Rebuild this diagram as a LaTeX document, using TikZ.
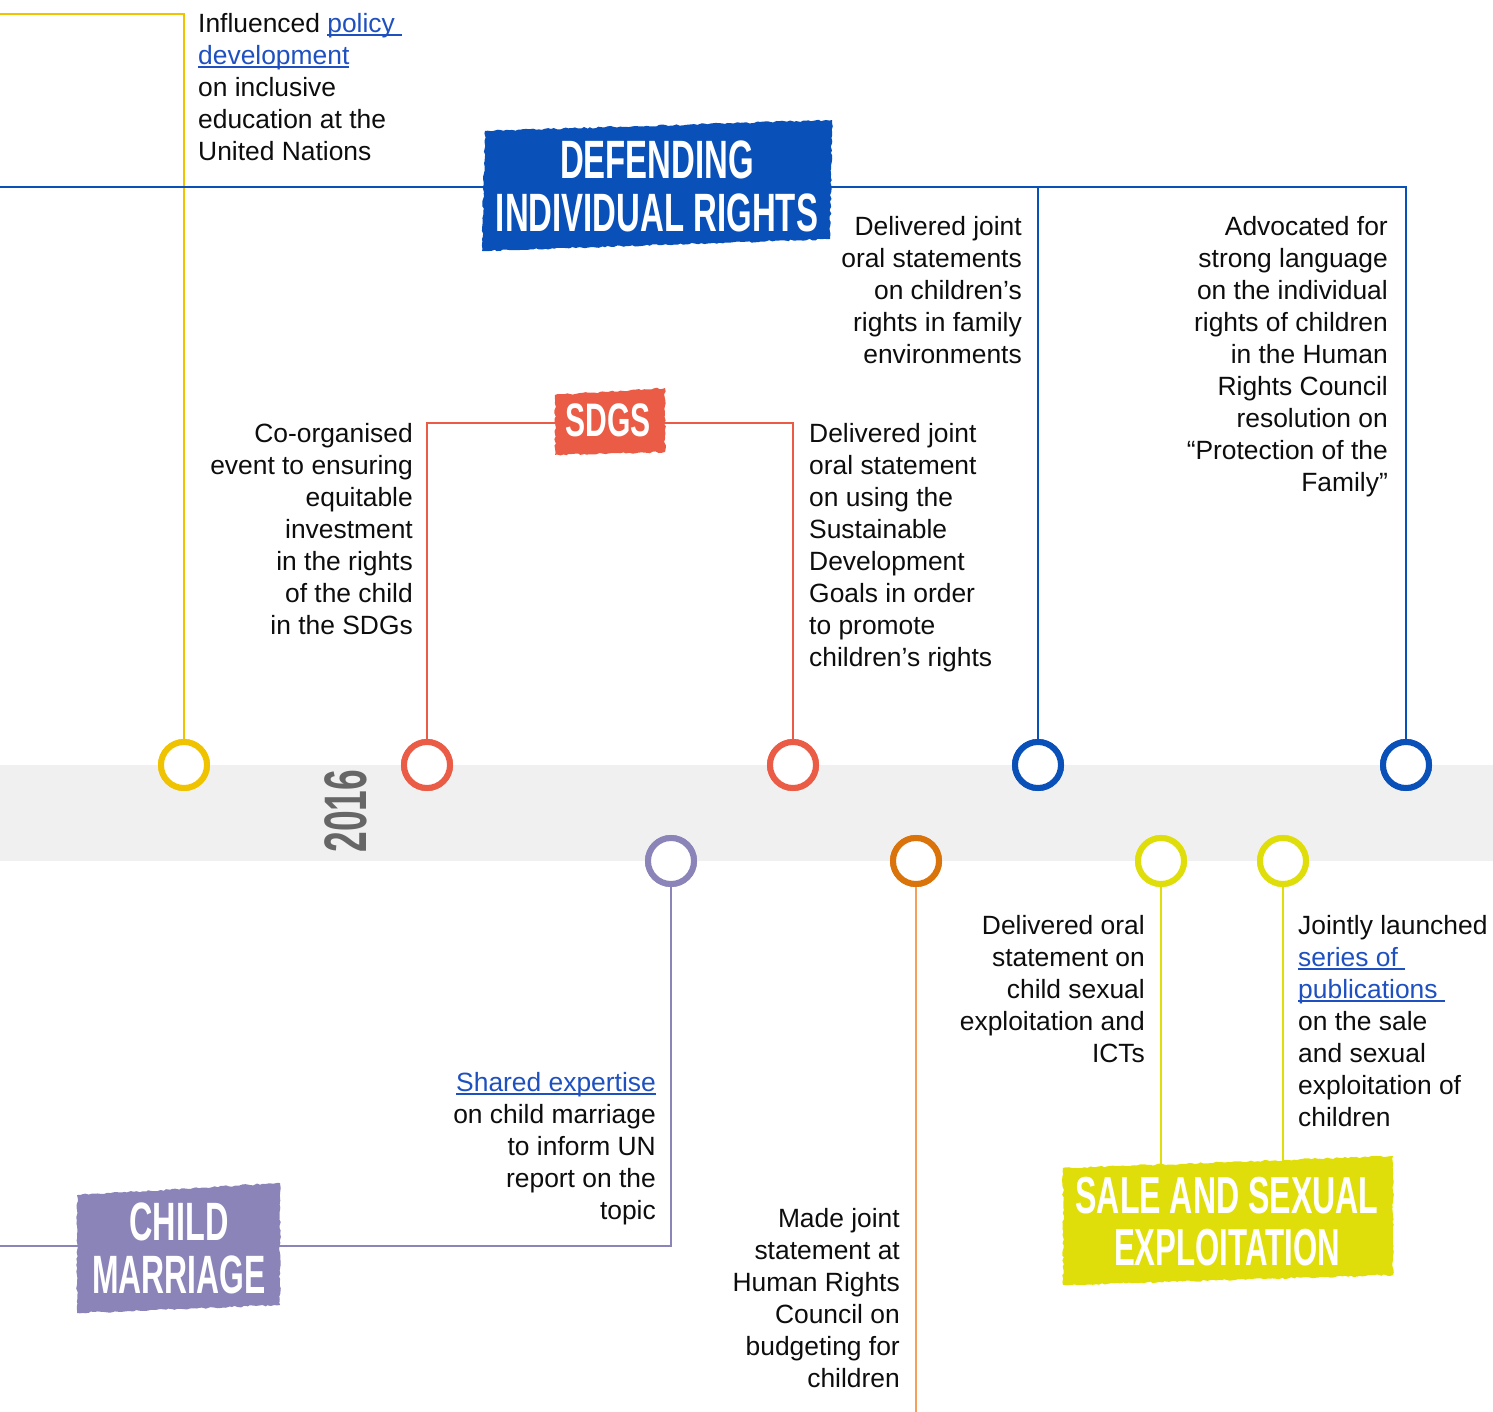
\documentclass[tikz,border=0pt]{standalone}
\usepackage{fontspec}
\setmainfont{Liberation Sans}
\usetikzlibrary{decorations.pathmorphing}
\definecolor{cyellow}{HTML}{F0C300}
\definecolor{cblue}{HTML}{0A50B9}
\definecolor{cred}{HTML}{EA5C45}
\definecolor{cpurple}{HTML}{8B84B9}
\definecolor{corange}{HTML}{D9730A}
\definecolor{corangel}{HTML}{F5A05A}
\definecolor{clime}{HTML}{E0DE0A}
\definecolor{cgray}{HTML}{F0F0F0}
\definecolor{cyear}{HTML}{666666}
\definecolor{clink}{HTML}{1E50C0}
\newcommand\lnk[1]{{\color{clink}\setbox0\hbox{#1}\rlap{\rule[-3.5pt]{\wd0}{1.4pt}}\box0}}
\begin{document}
\begin{tikzpicture}[x=1pt,y=-1pt,
  btxt/.style={font=\fontsize{26.4}{32}\selectfont, inner sep=0pt, text=black!95},
  ring/.style={circle, draw=#1, line width=6pt, fill=white, minimum size=46pt, inner sep=0pt},
  conn/.style={line width=2.8pt, draw=#1},
  bantxt/.style={font=\bfseries\fontsize{54}{53}\selectfont, text=white, align=center, inner sep=0pt},
  rough/.style={decorate, decoration={random steps, segment length=3pt, amplitude=0.9pt}}]
\pgfmathsetseed{7}
\useasboundingbox (0,0) rectangle (1493,1412);
% gray band
\fill[cgray] (0,765) rectangle (1493,861);
% year
\node[rotate=90, text=cyear, font=\bfseries\fontsize{60}{60}\selectfont, inner sep=0pt] (year) at (346,811) {\scalebox{0.62}[1]{2016}};
% circles
\node[ring=cyellow] (y1) at (184,765) {};
\node[ring=cred] (r1) at (427,765) {};
\node[ring=cred] (r2) at (793,765) {};
\node[ring=cblue] (b1) at (1038,765) {};
\node[ring=cblue] (b2) at (1406,765) {};
\node[ring=cpurple] (p1) at (671,861) {};
\node[ring=corange] (o1) at (916,861) {};
\node[ring=clime] (s1) at (1161,861) {};
\node[ring=clime] (s2) at (1283,861) {};
% helper coordinates
\coordinate (yl) at (0,14);
\coordinate (bl) at (0,187);
\coordinate (rl) at (0,423);
\coordinate (pl) at (0,1246);
\coordinate (ob) at (0,1412);
\coordinate (sb) at (0,1170);
% connectors
\draw[conn=cyellow] (y1.north) |- (yl);
\draw[conn=cblue] (bl) -| (b2.north);
\draw[conn=cblue] (b1.north) -- (b1.north |- bl);
\draw[conn=cred] (r1.north) |- (r2.north |- rl) -- (r2.north);
\draw[conn=cpurple] (p1.south) |- (pl);
\draw[conn=corangel] (o1.south) -- (o1.south |- ob);
\draw[conn=clime] (s1.south) -- (s1.south |- sb);
\draw[conn=clime] (s2.south) -- (s2.south |- sb);
% redraw circles on top of connectors
\node[ring=cyellow] at (y1) {};
\node[ring=cred] at (r1) {};
\node[ring=cred] at (r2) {};
\node[ring=cblue] at (b1) {};
\node[ring=cblue] at (b2) {};
\node[ring=cpurple] at (p1) {};
\node[ring=corange] at (o1) {};
\node[ring=clime] at (s1) {};
\node[ring=clime] at (s2) {};
% banners
\fill[cblue, rough] (485,131) -- (832,120) -- (830,239) -- (482,251) -- cycle;
\node[bantxt] (dir) at (657,186.5) {\scalebox{0.61}[1]{DEFENDING}\\\scalebox{0.61}[1]{INDIVIDUAL RIGHTS}};
\fill[cred, rough] (555,395) -- (665,388) -- (665,452) -- (555,455) -- cycle;
\node[bantxt, font=\bfseries\fontsize{47}{47}\selectfont] (sdgs) at (608,420) {\scalebox{0.64}[1]{SDGS}};
\fill[cpurple, rough] (77,1195) -- (280,1183) -- (280,1305) -- (77,1313) -- cycle;
\node[bantxt] (cm) at (179,1248) {\scalebox{0.6}[1]{CHILD}\\\scalebox{0.59}[1]{MARRIAGE}};
\fill[clime, rough] (1063,1168) -- (1393,1156) -- (1393,1275) -- (1063,1285) -- cycle;
\node[bantxt, font=\bfseries\fontsize{52}{52}\selectfont] (sse) at (1227,1222) {\scalebox{0.617}[1]{SALE AND SEXUAL}\\\scalebox{0.6}[1]{EXPLOITATION}};
% texts
\node[btxt, anchor=north west, align=left] (t1) at (198,13) {Influenced \lnk{policy\ }\\\lnk{development}\\on inclusive\\education at the\\United Nations};
\node[btxt, anchor=north east, align=right] (t2) at (1022,216) {Delivered joint\\oral statements\\on children’s\\rights in family\\environments};
\node[btxt, anchor=north east, align=right] (t3) at (1388,216) {Advocated for\\strong language\\on the individual\\rights of children\\in the Human\\Rights Council\\resolution on\\“Protection of the\\Family”};
\node[btxt, anchor=north east, align=right] (t4) at (413,423) {Co-organised\\event to ensuring\\equitable\\investment\\in the rights\\of the child\\in the SDGs};
\node[btxt, anchor=north west, align=left] (t5) at (809,423) {Delivered joint\\oral statement\\on using the\\Sustainable\\Development\\Goals in order\\to promote\\children’s rights};
\node[btxt, anchor=north east, align=right] (t6) at (656,1072) {\lnk{Shared expertise}\\on child marriage\\to inform UN\\report on the\\topic};
\node[btxt, anchor=north east, align=right] (t7) at (900,1208) {Made joint\\statement at\\Human Rights\\Council on\\budgeting for\\children};
\node[btxt, anchor=north east, align=right] (t8) at (1145,915) {Delivered oral\\statement on\\child sexual\\exploitation and\\ICTs};
\node[btxt, anchor=north west, align=left] (t9) at (1298,915) {Jointly launched\\\lnk{series of\ }\\\lnk{publications\ }\\on the sale\\and sexual\\exploitation of\\children};
\end{tikzpicture}
\end{document}
